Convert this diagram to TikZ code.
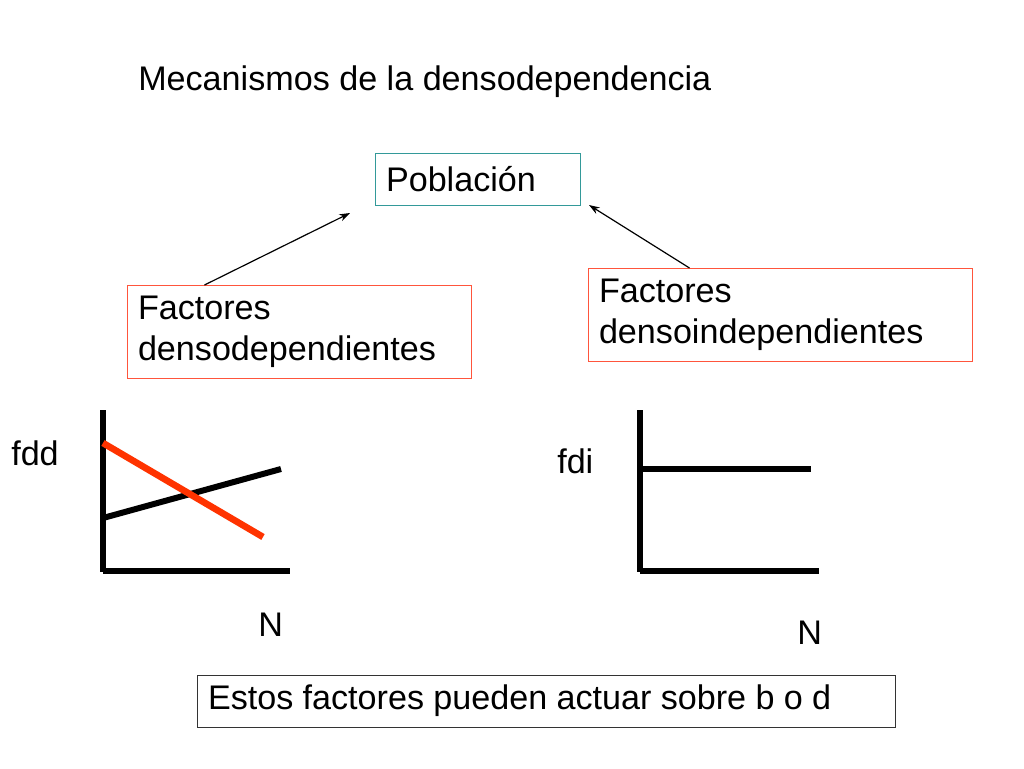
\documentclass[tikz,border=0pt]{standalone}
\usepackage{fontspec}
\setmainfont{Liberation Sans}
\usetikzlibrary{arrows.meta}
\definecolor{tealb}{RGB}{51,153,153}
\definecolor{redb}{RGB}{255,85,60}
\definecolor{redl}{RGB}{255,51,0}
\begin{document}
\begin{tikzpicture}[x=0.75pt,y=-0.75pt,
    every node/.style={font=\fontsize{25.6}{30.7}\selectfont},
    etiqueta/.style={anchor=base west, inner sep=0pt},
    txtbox/.style={draw, line width=0.75pt, align=left, inner xsep=8.25pt, inner ysep=1pt},
    axisline/.style={line width=4.5pt},
    flecha/.style={line width=0.9pt, -{Stealth[length=8pt,width=5.5pt]}}]
        \useasboundingbox (0,0) rectangle (1024,768);
        % titulo y cajas
        \node [etiqueta] (titulo) at (138,90) {Mecanismos de la densodependencia};
        \node [txtbox, draw=tealb, text width=137.25pt, minimum height=39pt] (poblacion) at (477.5,179) {Población};
        \node [txtbox, draw=redb, text width=241.5pt, minimum height=69.75pt] (fdep) at (299,332) {Factores\\densodependientes};
        \node [txtbox, draw=redb, text width=271.5pt, minimum height=69.75pt] (findep) at (780,315) {Factores\\densoindependientes};
        \node [txtbox, draw=black!80, text width=507pt, minimum height=39pt] (nota) at (546,701) {\spaceskip=7pt\relax Estos factores pueden actuar sobre b o d};
        % flechas
        \coordinate (pizq) at (350,213);
        \coordinate (pder) at (589,205);
        \draw [flecha] ([xshift=58.5pt]fdep.north west) -- (pizq);
        \draw [flecha] ([xshift=76.5pt]findep.north west) -- (pder);
        % grafica fdd
        \draw [axisline] (103,410) -- (103,572);
        \draw [axisline] (103,571) -- (290,571);
        \draw [axisline] (103,518) -- (281,469);
        \draw [axisline, color=redl, line width=5pt] (103,443) -- (263,537);
        \node [etiqueta] (lfdd) at (11,465) {fdd};
        \node [etiqueta] (lnizq) at (258,636) {N};
        % grafica fdi
        \draw [axisline] (640,410) -- (640,572);
        \draw [axisline] (640,571) -- (819,571);
        \draw [axisline] (640,469) -- (811,469);
        \node [etiqueta] (lfdi) at (557,473) {fdi};
        \node [etiqueta] (lnder) at (797,644) {N};
\end{tikzpicture}
\end{document}
